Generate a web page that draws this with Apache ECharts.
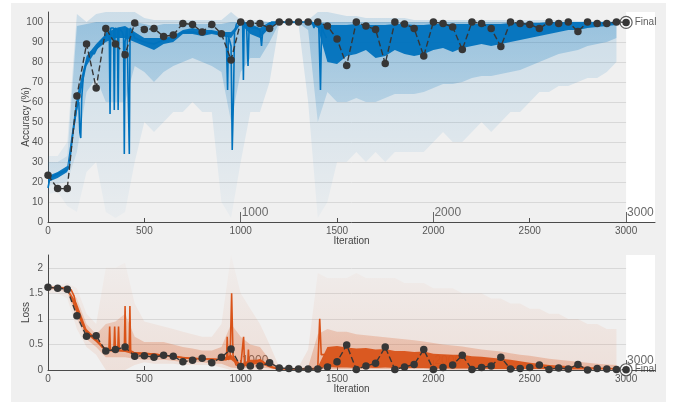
<!DOCTYPE html>
<html><head><meta charset="utf-8">
<script src="https://cdn.jsdelivr.net/npm/echarts@6/dist/echarts.min.js"></script>
<style>html,body{margin:0;padding:0;background:#fff}#c{width:678px;height:407px}</style>
</head><body><div id="c"></div>
<script>
// ---------- data ----------
const STEP = 50;
const iters = Array.from({length: 60}, (_, i) => i * STEP); // 0..2950
const xTicks = [0, 500, 1000, 1500, 2000, 2500, 3000];
const epochTicks = [1000, 2000, 3000];
const accTicks = [0, 10, 20, 30, 40, 50, 60, 70, 80, 90, 100];
const lossTicks = [0, 0.5, 1, 1.5, 2];

// training accuracy, raw (faint) outer envelope
const accOuterLo = [14,15,8,5,25,30,5,2,5,30, 50,45,50,55,55,60,55,55,10,2, 30,55,55,70,99,99,99,60,2,10,
  30,30,35,30,35,30,35,35,35,35, 40,45,40,40,45,50,45,50,55,55, 60,65,65,68,68,70,72,72,75,80];
const accOuterHi = [33,33,40,104,100,104,105,105,105,105, 102,101,101,101,101,101,101,101,101,105,
  101,101,101,100,100,100,100,101,105,105, 104,103,103,102,102,102,102,102,101,101,
  101,101,101,101,101,101,101,101,101,101, 101,101,101,101,101,100.5,100.5,100.5,100.5,100.5];
// raw (denser) inner envelope
const accInnerLo = [18,19,20,35,65,72,60,60,60,78, 75,70,75,78,80,82,80,78,75,50, 75,82,82,90,99.5,99.5,99.5,96,50,65,
  60,60,62,60,60,62,64,64,64,65, 67,69,69,70,72,73,73,74,75,76, 78,80,82,84,85,86,88,89,90,92];
const accInnerHi = [30,30,33,98,99,100,100,100,100,100, 99,98,99,99,99,99,99,99,99,100,
  100,100,100,100,100,100,100,100,100,100, 100,100,100,100,100,100,100,100,100,100,
  100,100,100,100,100,100,100,100,100,100, 100,100,100,100,100,100,100,100,100,100];
// smoothed accuracy band
const accDarkLo = [20,22,25,55,78,86,90,92,92,90, 88,86,89,90,94,94,93,94,93,92, 99,94,92,97,99.7,99.7,99.7,99.7,97,80,
  79,83,84,86,82,83,86,84,83,84, 86,87,85,87,88,89,88,89,90,91, 92,93,94,95,96,96,97,97.5,98,98.5];
const accDarkHi = [23,25,28,63,83,89,94,97,98,95, 92,92,92,93,96,97,96,96,95,95, 100,99,97,100,100,100,100,100,100,98.5,
  98.5,98.5,99,98.5,98.5,98.5,99,99,98.5,98.5, 99,99,99,99,99,99,99,99,99.5,99.5, 99.5,99.5,100,100,100,100,100,100,100,100];
// smoothed accuracy line (iteration, value)
const accLine = [[0,17],[10,22],[50,24],[100,26],[110,28],[130,45],[150,58],[160,60],[165,45],[170,42],[175,62],[185,75],
  [200,80],[220,85],[240,84],[260,88],[280,91],[300,93],[310,97],[318,95],[322,54],[326,97],[340,97],[344,56],[348,97],
  [360,96],[364,56],[368,97],[385,95],[392,93],[396,34],[400,90],[410,97],[418,98],[422,34],[426,97],[440,95],[450,92],
  [500,90],[550,89],[600,91],[650,92],[700,95],[750,95],[800,94],[850,95],[900,94],[925,93],[932,66],[936,93],[945,92],
  [950,88],[956,36],[962,60],[968,95],[978,99],[990,100],[1010,100],[1014,71],[1018,100],[1030,99],[1038,78],[1044,98],
  [1060,97],[1080,97],[1100,96],[1108,88],[1114,95],[1125,96],[1140,97],[1150,96],[1160,100],[1370,100],[1380,97],
  [1390,100],[1405,99],[1414,66],[1420,98],[1430,95],[1445,92]];
// validation accuracy
const accVal = [23.4,16.7,16.7,63,89,67,96.8,89,83.6,99.5, 96.2,96.7,92.8,93.5,99.3,98.8,95,98.8,94.1,81,
  100,99.3,99.3,96.7,100,100,100,100,100,98, 91.5,78.3,100,98,96.3,79.2,100,99,96.8,83,
  100,99.3,97.5,86.2,100,99.3,96.7,87.7,100,99.3, 98.8,96.7,100,99.3,100,95.3,100,99.3,99.3,100];
const finalIter = 3000;
const accFinal = 99.8;

// training loss, raw envelopes
const lossOuterLo = [1.5,1.5,1.4,0.8,0.45,0.3,0,0,0,0.1, 0.15,0.12,0.12,0.12,0.1,0.1,0.1,0.1,0.05,0,
  0,0,0,0,0,0,0,0,0,0, 0,0,0,0,0,0,0,0,0,0, 0,0,0,0,0,0,0,0,0,0, 0,0,0,0,0,0,0,0,0,0];
const lossOuterHi = [1.66,1.66,1.7,1.6,1.1,0.9,2.0,2.0,2.1,1.3, 0.95,0.9,0.85,0.8,0.75,0.7,0.65,0.65,0.9,2.25,
  1.5,1.2,0.9,0.5,0.06,0.06,0.06,0.4,1.9,1.8, 1.8,1.8,1.9,1.8,1.8,1.8,1.8,1.7,1.7,1.7,
  1.6,1.6,1.6,1.5,1.5,1.5,1.4,1.4,1.3,1.3, 1.2,1.2,1.1,1.1,1.0,1.0,0.9,0.9,0.8,0.8];
const lossInnerLo = [1.56,1.57,1.5,1.0,0.6,0.45,0.25,0.25,0.25,0.22, 0.2,0.2,0.2,0.18,0.15,0.15,0.15,0.12,0.12,0.05,
  0.03,0.05,0.05,0.03,0.01,0.01,0.01,0.01,0.01,0.02, 0.02,0.02,0.02,0.02,0.02,0.02,0.02,0.02,0.02,0.02,
  0.01,0.01,0.01,0.01,0.01,0.01,0.01,0.01,0.01,0.01, 0.01,0.01,0.01,0.01,0.01,0.01,0.01,0.01,0.01,0.01];
const lossInnerHi = [1.64,1.64,1.64,1.4,0.9,0.7,0.9,0.95,1.1,0.65, 0.55,0.55,0.55,0.5,0.45,0.42,0.38,0.38,0.45,0.9,
  0.65,0.5,0.45,0.2,0.04,0.04,0.04,0.06,0.7,0.8, 0.75,0.75,0.7,0.68,0.66,0.64,0.62,0.6,0.58,0.56,
  0.53,0.5,0.48,0.46,0.43,0.4,0.38,0.36,0.33,0.3, 0.28,0.25,0.22,0.2,0.18,0.16,0.14,0.12,0.11,0.1];
const lossDarkLo = [1.6,1.6,1.57,1.1,0.7,0.55,0.37,0.37,0.35,0.3, 0.3,0.28,0.27,0.26,0.22,0.21,0.2,0.2,0.19,0.2,
  0.05,0.1,0.12,0.05,0.02,0.02,0.02,0.02,0.03,0.06, 0.05,0.05,0.04,0.05,0.04,0.05,0.04,0.04,0.04,0.04,
  0.03,0.03,0.03,0.03,0.03,0.03,0.02,0.02,0.02,0.02, 0.02,0.02,0.015,0.015,0.01,0.01,0.01,0.01,0.01,0.01];
const lossDarkHi = [1.63,1.62,1.61,1.3,0.8,0.62,0.42,0.4,0.4,0.35, 0.34,0.33,0.3,0.29,0.26,0.24,0.23,0.23,0.22,0.3,
  0.12,0.2,0.2,0.1,0.03,0.03,0.03,0.03,0.06,0.45, 0.47,0.44,0.42,0.43,0.4,0.41,0.37,0.37,0.35,0.36,
  0.32,0.31,0.3,0.3,0.27,0.26,0.24,0.22,0.2,0.17, 0.14,0.12,0.1,0.09,0.08,0.07,0.06,0.05,0.045,0.04];
const lossLine = [[0,1.62],[100,1.6],[120,1.57],[135,1.45],[150,1.2],[170,1.0],[190,0.8],[200,0.75],[250,0.58],[280,0.45],
  [300,0.4],[316,0.38],[320,0.85],[324,0.38],[342,0.38],[346,0.85],[350,0.38],[362,0.38],[366,0.85],[370,0.38],
  [396,0.38],[400,1.25],[404,0.38],[421,0.38],[425,1.25],[429,0.38],[450,0.33],[500,0.32],[550,0.31],[600,0.29],
  [700,0.24],[800,0.22],[900,0.2],[926,0.2],[930,0.65],[934,0.2],[945,0.25],[953,1.5],[960,0.3],[975,0.1],
  [1000,0.08],[1010,0.1],[1015,0.65],[1020,0.1],[1036,0.1],[1040,0.4],[1044,0.1],[1060,0.15],[1100,0.2],
  [1140,0.1],[1160,0.05],[1200,0.02],[1380,0.02],[1400,0.05],[1410,1.0],[1418,0.3],[1440,0.3]];
const lossVal = [1.62,1.6,1.58,1.06,0.66,0.67,0.37,0.4,0.45,0.27, 0.28,0.25,0.29,0.27,0.16,0.19,0.23,0.14,0.25,0.41,
  0.07,0.08,0.08,0.14,0.04,0.03,0.02,0.02,0.02,0.06, 0.16,0.49,0.01,0.08,0.13,0.45,0.01,0.06,0.11,0.4,
  0.01,0.05,0.1,0.29,0.01,0.05,0.08,0.25,0.02,0.03, 0.05,0.1,0.01,0.04,0.02,0.11,0.0,0.03,0.02,0.01];
const lossFinal = 0.005;

// ---------- chart ----------
const FONT = 'Liberation Sans, Arial, sans-serif';
const BLUE = '#0072BD', ORANGE = '#D95319', VALC = '#363636';
const chart = echarts.init(document.getElementById('c'), null, {renderer: 'canvas'});

function grad(cTop, cBot) {
  return new echarts.graphic.LinearGradient(0, 0, 0, 1, [{offset: 0, color: cTop}, {offset: 1, color: cBot}]);
}
function band(gi, lo, hi, fill, z) {
  return {type: 'custom', xAxisIndex: gi * 2, yAxisIndex: gi, z, silent: true, clip: true,
    data: [[iters[0], lo[0]]], encode: {x: 0, y: 1},
    renderItem: (params, api) => {
      const top = iters.map((x, i) => api.coord([x, hi[i]]));
      const bot = iters.map((x, i) => api.coord([x, lo[i]])).reverse();
      return {type: 'polygon', shape: {points: top.concat(bot)}, style: {fill}};
    }};
}
function valSeries(gi, vals, fin) {
  const d = iters.map((x, i) => [x, vals[i]]).concat([[finalIter, fin]]);
  return [
    {type: 'line', xAxisIndex: gi * 2, yAxisIndex: gi, data: d, z: 10, silent: true,
     symbol: 'circle', symbolSize: 7.5, itemStyle: {color: VALC},
     lineStyle: {color: VALC, width: 1.4, type: [6, 3]}},
    {type: 'scatter', xAxisIndex: gi * 2, yAxisIndex: gi, data: [[finalIter, fin]], z: 9, silent: true,
     symbolSize: 12, itemStyle: {color: '#fff', borderColor: VALC, borderWidth: 1.2},
     label: {show: true, position: 'right', distance: 2, formatter: 'Final', fontFamily: FONT, fontSize: 10, color: '#333'}}
  ];
}
function xMain(gi, name) {
  return {gridIndex: gi, type: 'value', min: 0, max: 3150, name, nameLocation: 'middle', nameGap: 14,
    nameMoveOverlap: false, z: 1,
    nameTextStyle: {fontFamily: FONT, fontSize: 10, color: '#444'},
    axisLine: {onZero: false, lineStyle: {color: '#4a4a4a', width: 1}},
    axisTick: {inside: true, length: 4, customValues: xTicks, lineStyle: {color: '#4a4a4a'}},
    axisLabel: {customValues: xTicks, formatter: v => String(v), fontFamily: FONT, fontSize: 10, color: '#555', margin: 4},
    splitLine: {show: false}};
}
function xEpoch(gi) {
  return {gridIndex: gi, type: 'value', min: 0, max: 3150, position: 'bottom', z: 1,
    axisLine: {show: false, onZero: false},
    axisTick: {show: true, inside: true, length: 10, customValues: epochTicks, lineStyle: {color: '#666'}},
    axisLabel: {inside: true, customValues: epochTicks, formatter: v => String(v), align: 'left', verticalAlign: 'bottom',
      margin: 3, padding: [0, 0, 0, 1], fontFamily: FONT, fontSize: 12, color: '#6a6a6a'},
    splitLine: {show: false}};
}
function yAx(gi, max, ticks, name, fmt) {
  return {gridIndex: gi, type: 'value', min: 0, max, name, nameLocation: 'middle', nameGap: 17,
    nameMoveOverlap: false, z: 1,
    nameTextStyle: {fontFamily: FONT, fontSize: 10, color: '#444'},
    axisLine: {show: true, lineStyle: {color: '#4a4a4a'}},
    axisTick: {show: false, customValues: ticks},
    axisLabel: {customValues: ticks, formatter: fmt, fontFamily: FONT, fontSize: 10, color: '#555', margin: 5},
    splitLine: {show: true, lineStyle: {color: '#d8d8d8', width: 1}}};
}

const whiteTail = {silent: true, itemStyle: {color: '#ffffff'}, data: [[{xAxis: 3000}, {xAxis: 3150}]]};

const series = [];
// helper series that only carry the white tail region of each plot
series.push({type: 'line', xAxisIndex: 0, yAxisIndex: 0, data: [], z: 0, markArea: whiteTail});
series.push({type: 'line', xAxisIndex: 2, yAxisIndex: 1, data: [], z: 0, markArea: whiteTail});

series.push(band(0, accOuterLo, accOuterHi, grad('rgba(0,114,189,0.15)', 'rgba(0,114,189,0.03)'), 2));
series.push(band(0, accInnerLo, accInnerHi, grad('rgba(0,114,189,0.26)', 'rgba(0,114,189,0.07)'), 3));
series.push(band(0, accDarkLo, accDarkHi, 'rgba(0,114,189,0.95)', 4));
series.push({type: 'line', xAxisIndex: 0, yAxisIndex: 0, data: accLine, symbol: 'none', z: 5, silent: true,
  lineStyle: {color: BLUE, width: 1.6}});
series.push(...valSeries(0, accVal, accFinal));

series.push(band(1, lossOuterLo, lossOuterHi, grad('rgba(217,83,25,0.02)', 'rgba(217,83,25,0.1)'), 2));
series.push(band(1, lossInnerLo, lossInnerHi, grad('rgba(217,83,25,0.14)', 'rgba(217,83,25,0.28)'), 3));
series.push(band(1, lossDarkLo, lossDarkHi, 'rgba(217,83,25,0.95)', 4));
series.push({type: 'line', xAxisIndex: 2, yAxisIndex: 1, data: lossLine, symbol: 'none', z: 5, silent: true,
  lineStyle: {color: ORANGE, width: 1.6}});
series.push(...valSeries(1, lossVal, lossFinal));

chart.setOption({
  animation: false,
  backgroundColor: '#ffffff',
  graphic: [{type: 'rect', z: -10, shape: {x: 11, y: 3, width: 655, height: 399}, style: {fill: '#f0f0f0'}}],
  grid: [
    {left: 48, right: 23, top: 12, height: 210, containLabel: false},
    {left: 48, right: 23, top: 255, height: 115, containLabel: false}
  ],
  xAxis: [xMain(0, 'Iteration'), xEpoch(0), xMain(1, 'Iteration'), xEpoch(1)],
  yAxis: [yAx(0, 105, accTicks, 'Accuracy (%)', v => String(v)), yAx(1, 2.25, lossTicks, 'Loss', v => String(v))],
  series
});
</script></body></html>
